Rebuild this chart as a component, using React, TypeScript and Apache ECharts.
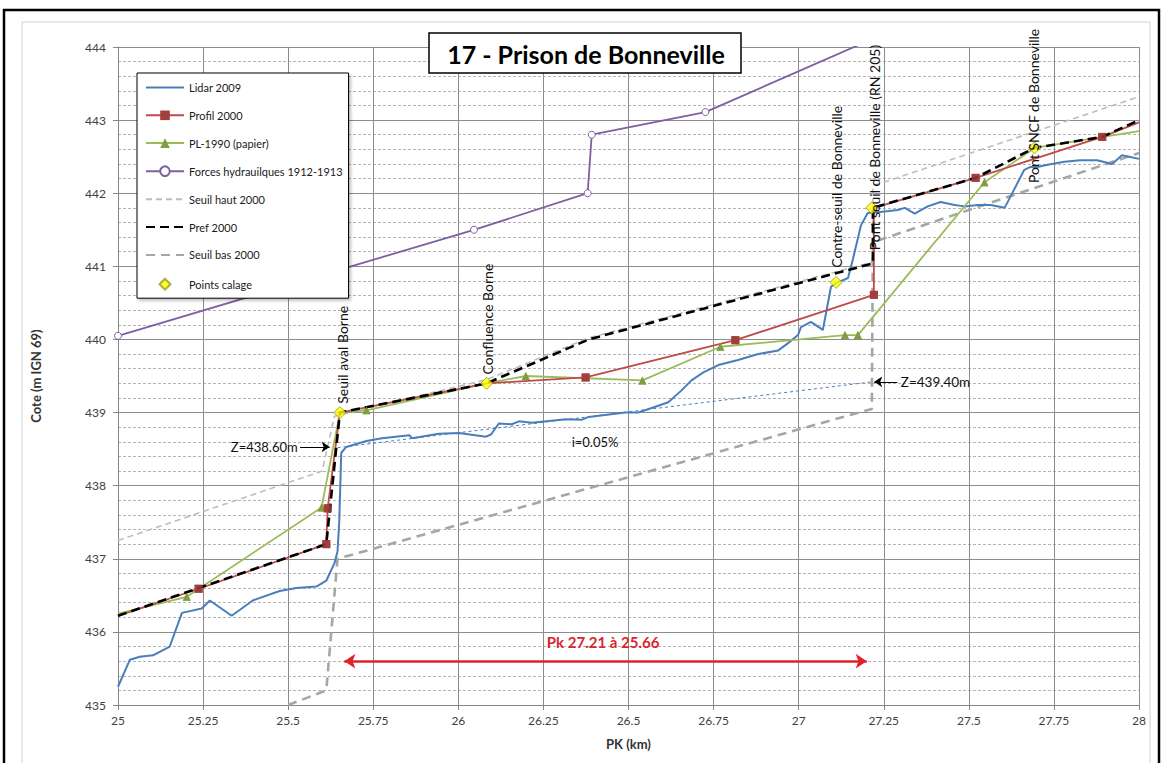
import React, { useEffect, useRef } from "react";
import * as echarts from "echarts";

const FONT = "Lato, 'Liberation Sans', sans-serif";

const legendNames = [
  "Lidar 2009",
  "Profil 2000",
  "PL-1990 (papier)",
  "Forces hydrauilques 1912-1913",
  "Seuil haut 2000",
  "Pref 2000",
  "Seuil bas 2000",
  "Points calage",
];

// PK (km), cote (m)
const lidar2009: [number, number][] = [
  [25.0, 435.25], [25.035, 435.62], [25.064, 435.66], [25.103, 435.68], [25.152, 435.8],
  [25.188, 436.26], [25.246, 436.32], [25.27, 436.43], [25.334, 436.22], [25.396, 436.43],
  [25.475, 436.56], [25.524, 436.6], [25.583, 436.62], [25.612, 436.7], [25.636, 436.94],
  [25.645, 437.1], [25.65, 437.5], [25.656, 438.45], [25.671, 438.53], [25.73, 438.61],
  [25.776, 438.65], [25.856, 438.69], [25.864, 438.65], [25.943, 438.71], [26.002, 438.72],
  [26.081, 438.67], [26.096, 438.7], [26.119, 438.85], [26.157, 438.84], [26.178, 438.88],
  [26.216, 438.86], [26.316, 438.91], [26.362, 438.9], [26.383, 438.94], [26.491, 439.0],
  [26.529, 439.0], [26.579, 439.08], [26.617, 439.14], [26.655, 439.3], [26.685, 439.44],
  [26.72, 439.55], [26.764, 439.65], [26.822, 439.72], [26.881, 439.8], [26.94, 439.85],
  [26.969, 439.95], [26.998, 440.06], [27.007, 440.17], [27.036, 440.24], [27.071, 440.13],
  [27.095, 440.72], [27.11, 440.77], [27.145, 440.84], [27.159, 441.09], [27.183, 441.56],
  [27.203, 441.73], [27.233, 441.74], [27.291, 441.77], [27.312, 441.8], [27.341, 441.72],
  [27.379, 441.82], [27.417, 441.88], [27.458, 441.84], [27.488, 441.82], [27.526, 441.84],
  [27.564, 441.84], [27.605, 441.8], [27.622, 441.95], [27.663, 442.32], [27.681, 442.36],
  [27.701, 442.36], [27.731, 442.39], [27.781, 442.43], [27.827, 442.45], [27.877, 442.45],
  [27.921, 442.4], [27.95, 442.52], [27.971, 442.5], [28.0, 442.47],
];

// [PK, cote, marker shown (1) or not (0)]
const profil2000: [number, number, number][] = [
  [25.0, 436.22, 0], [25.237, 436.59, 1], [25.612, 437.2, 1], [25.616, 437.69, 1],
  [25.652, 439.0, 0], [26.083, 439.4, 0], [26.374, 439.48, 1], [26.814, 439.99, 1],
  [27.221, 440.61, 1], [27.221, 441.8, 0], [27.52, 442.21, 1], [27.892, 442.77, 1],
  [28.0, 442.97, 0],
];

const pl1990: [number, number, number][] = [
  [25.0, 436.25, 0], [25.202, 436.48, 1], [25.598, 437.7, 1], [25.652, 439.0, 0],
  [25.73, 439.03, 1], [26.083, 439.4, 0], [26.198, 439.5, 1], [26.541, 439.44, 1],
  [26.77, 439.9, 1], [27.136, 440.06, 1], [27.174, 440.06, 1], [27.546, 442.15, 1],
  [27.693, 442.62, 0], [28.0, 442.85, 0],
];

const forces1912: [number, number, number][] = [
  [25.0, 440.05, 1], [26.046, 441.5, 1], [26.38, 442.0, 1], [26.392, 442.8, 1],
  [26.726, 443.11, 1], [27.3, 444.28, 0],
];

const seuilHaut2000: [number, number][] = [
  [25.0, 437.25], [25.6, 438.2], [25.636, 438.95], [26.083, 439.45], [26.383, 440.02],
  [27.0, 440.79], [27.218, 441.06], [27.218, 442.1], [28.0, 443.32],
];

const pref2000: [number, number][] = [
  [25.0, 436.22], [25.612, 437.2], [25.652, 439.0], [26.083, 439.4], [26.383, 440.0],
  [27.0, 440.77], [27.218, 441.04], [27.218, 441.8], [27.52, 442.21], [27.693, 442.62],
  [27.892, 442.77], [28.0, 443.0],
];

const seuilBas2000: [number, number][] = [
  [25.5, 435.0], [25.612, 435.2], [25.645, 437.0], [27.215, 439.05], [27.218, 441.33],
  [28.0, 442.55],
];

const pente005: [number, number][] = [
  [25.645, 438.52], [27.215, 439.42],
];

const pointsCalage: [number, number][] = [
  [25.652, 439.0], [26.083, 439.4], [27.11, 440.78], [27.215, 441.8], [27.693, 442.62],
];

// vertical site labels: [text, PK, cote at the foot of the label]
const siteLabels: [string, number, number][] = [
  ["Seuil aval Borne", 25.66, 439.12],
  ["Confluence Borne", 26.085, 439.52],
  ["Contre-seuil de Bonneville", 27.11, 440.98],
  ["Pont seuil de Bonneville (RN 205)", 27.222, 441.22],
  ["Pont SNCF de Bonneville", 27.69, 442.14],
];

const title = "17 - Prison de Bonneville";

const withMarkers = (arr: [number, number, number][]) =>
  arr.map((p) => (p[2] ? [p[0], p[1]] : { value: [p[0], p[1]], symbol: "none" }));
const onlyMarkers = (arr: [number, number, number][]) =>
  arr.filter((p) => p[2]).map((p) => [p[0], p[1]]);

const noSymbol = { itemStyle: { opacity: 0 } };
const diamondIcon = "path://M0,0 M38,12 M19,0.5 L24.5,6 L19,11.5 L13.5,6 Z";

export default function App() {
  const ref = useRef<HTMLDivElement>(null);
  useEffect(() => {
    const chart = echarts.init(ref.current!, null, { renderer: "svg" });
    const redLine = "#BE4B48";
    const redMark = "#A23F3C";
    const green = "#9BBB59";
    const greenMark = "#7F9F3F";
    const purple = "#7D60A0";
    const blue = "#4A7EBB";

    const option: any = {
      animation: false,
      backgroundColor: "#fff",
      textStyle: { fontFamily: FONT },
      grid: { left: 118, right: 26, top: 47, bottom: 58, containLabel: false },
      legend: {
        orient: "vertical",
        left: 137,
        top: 73,
        itemWidth: 38,
        itemHeight: 12,
        itemGap: 16.8,
        padding: [9, 6, 7, 8],
        backgroundColor: "#fff",
        borderColor: "#000",
        borderWidth: 1,
        shadowColor: "rgba(0,0,0,0.25)",
        shadowBlur: 3,
        shadowOffsetX: 2,
        shadowOffsetY: 2,
        textStyle: { fontFamily: FONT, fontSize: 11, color: "#1a1a1a" },
        data: [
          { name: legendNames[0], ...noSymbol },
          { name: legendNames[1] },
          { name: legendNames[2] },
          { name: legendNames[3] },
          { name: legendNames[4], ...noSymbol },
          { name: legendNames[5], ...noSymbol },
          { name: legendNames[6], ...noSymbol },
          { name: legendNames[7], icon: diamondIcon },
        ],
        selectedMode: false,
      },
      xAxis: {
        type: "value",
        min: 25,
        max: 28,
        interval: 0.25,
        name: "PK (km)",
        nameLocation: "middle",
        nameGap: 32,
        nameTextStyle: { fontFamily: FONT, fontSize: 13, fontWeight: "bold", color: "#333" },
        axisLine: { show: true, onZero: false, lineStyle: { color: "#868686", width: 1 } },
        axisTick: { show: true, length: 5, lineStyle: { color: "#868686" } },
        axisLabel: { fontFamily: FONT, fontSize: 12, color: "#404040", margin: 9 },
        splitLine: { show: true, lineStyle: { color: "#8c8c8c", width: 1 } },
      },
      yAxis: {
        type: "value",
        min: 435,
        max: 444,
        interval: 1,
        name: "Cote (m IGN 69)",
        nameLocation: "middle",
        nameGap: 76,
        nameTextStyle: { fontFamily: FONT, fontSize: 13, fontWeight: "bold", color: "#333" },
        axisLine: { show: true, lineStyle: { color: "#868686", width: 1 } },
        axisTick: { show: true, length: 5, lineStyle: { color: "#868686" } },
        axisLabel: { fontFamily: FONT, fontSize: 12, color: "#404040", margin: 12 },
        splitLine: { show: true, lineStyle: { color: "#8c8c8c", width: 1 } },
        minorTick: { show: false, splitNumber: 5 },
        minorSplitLine: { show: true, lineStyle: { color: "#b4b4b4", width: 1, type: [3, 2] } },
      },
      series: [
        {
          name: "Seuil haut 2000",
          type: "line",
          data: seuilHaut2000,
          symbol: "none",
          lineStyle: { color: "#bdbdbd", width: 1.6, type: [6, 4] },
          itemStyle: { color: "#bdbdbd" },
          z: 2,
        },
        {
          name: "Seuil bas 2000",
          type: "line",
          data: seuilBas2000,
          symbol: "none",
          lineStyle: { color: "#a6a6a6", width: 2.6, type: [9, 6] },
          itemStyle: { color: "#a6a6a6" },
          z: 2,
        },
        {
          name: "pente",
          type: "line",
          data: pente005,
          symbol: "none",
          lineStyle: { color: blue, width: 1, type: [3, 3] },
          silent: true,
          z: 2,
          markLine: {
            silent: true,
            animation: false,
            label: { show: false },
            emphasis: { disabled: true },
            data: [
              [
                { coord: [25.535, 438.53], symbol: "none", lineStyle: { color: "#000", width: 1, type: "solid" } },
                { coord: [25.622, 438.53], symbol: "arrow", symbolSize: 8 },
              ],
              [
                { coord: [27.29, 439.42], symbol: "none", lineStyle: { color: "#000", width: 1, type: "solid" } },
                { coord: [27.222, 439.42], symbol: "arrow", symbolSize: 8 },
              ],
              [
                { coord: [25.665, 435.6], symbol: "arrow", symbolSize: 11, lineStyle: { color: "#E0202A", width: 2.5, type: "solid" } },
                { coord: [27.2, 435.6], symbol: "arrow", symbolSize: 11 },
              ],
            ],
          },
        },
        {
          name: "Lidar 2009",
          type: "line",
          data: lidar2009,
          symbol: "none",
          lineStyle: { color: blue, width: 2 },
          itemStyle: { color: blue },
          z: 3,
        },
        {
          name: "Forces hydrauilques 1912-1913",
          type: "line",
          data: withMarkers(forces1912),
          symbol: "circle",
          symbolSize: 7,
          lineStyle: { color: purple, width: 1.8 },
          itemStyle: { color: "#fff", borderColor: purple, borderWidth: 1 },
          z: 3,
        },
        {
          name: "PL-1990 (papier)",
          type: "line",
          data: withMarkers(pl1990),
          symbol: "triangle",
          symbolSize: 8,
          lineStyle: { color: green, width: 1.8 },
          itemStyle: { color: greenMark },
          z: 3,
        },
        {
          name: "Profil 2000",
          type: "line",
          data: withMarkers(profil2000),
          symbol: "rect",
          symbolSize: 8,
          lineStyle: { color: redLine, width: 1.8 },
          itemStyle: { color: redMark },
          z: 3,
        },
        {
          name: "Pref 2000",
          type: "line",
          data: pref2000,
          symbol: "none",
          lineStyle: { color: "#000", width: 2.6, type: [9, 5] },
          itemStyle: { color: "#000" },
          z: 4,
        },
        {
          name: "markersPL",
          type: "scatter",
          data: onlyMarkers(pl1990),
          symbol: "triangle",
          symbolSize: 8,
          itemStyle: { color: greenMark },
          silent: true,
          z: 5,
        },
        {
          name: "markersProfil",
          type: "scatter",
          data: onlyMarkers(profil2000),
          symbol: "rect",
          symbolSize: 8,
          itemStyle: { color: redMark },
          silent: true,
          z: 5,
        },
        {
          name: "Points calage",
          type: "scatter",
          data: pointsCalage,
          symbol: "diamond",
          symbolSize: 12,
          itemStyle: { color: "#FFFF00", borderColor: "#9a9a1a", borderWidth: 1 },
          z: 6,
        },
      ],
    };
    chart.setOption(option);

    const px = (p: [number, number]) =>
      chart.convertToPixel({ xAxisIndex: 0, yAxisIndex: 0 }, p) as number[];

    const graphics: any[] = [
      {
        type: "rect",
        z: 0,
        silent: true,
        shape: { x: 22, y: 22, width: 1128, height: 760 },
        style: { fill: "none", stroke: "#d0d0d0", lineWidth: 1 },
      },
      {
        type: "rect",
        z: 0,
        silent: true,
        shape: { x: 4, y: 10, width: 1155, height: 770 },
        style: { fill: "none", stroke: "#000", lineWidth: 2.5 },
      },
      {
        type: "rect",
        z: 20,
        silent: true,
        shape: { x: 429, y: 33, width: 312, height: 40 },
        style: { fill: "#fff", stroke: "#000", lineWidth: 1.5 },
      },
      {
        type: "text",
        z: 21,
        silent: true,
        x: 586,
        y: 54,
        style: {
          text: title,
          fill: "#000",
          font: `bold 25px ${FONT}`,
          align: "center",
          verticalAlign: "middle",
        },
      },
    ];

    siteLabels.forEach(([t, x, y]) => {
      const [gx, gy] = px([x, y]);
      graphics.push({
        type: "text",
        z: 15,
        silent: true,
        x: gx,
        y: gy,
        rotation: Math.PI / 2,
        style: {
          text: t,
          fill: "#111",
          font: `14px ${FONT}`,
          align: "left",
          verticalAlign: "middle",
        },
      });
    });

    const addText = (t: string, p: [number, number], align: string, font: string, fill: string) => {
      const [gx, gy] = px(p);
      graphics.push({
        type: "text",
        z: 15,
        silent: true,
        x: gx,
        y: gy,
        style: { text: t, fill, font, align, verticalAlign: "middle" },
      });
    };
    addText("Z=438.60m", [25.528, 438.53], "right", `13px ${FONT}`, "#111");
    addText("Z=439.40m", [27.3, 439.42], "left", `13.5px ${FONT}`, "#111");
    addText("i=0.05%", [26.333, 438.6], "left", `13px ${FONT}`, "#111");
    addText("Pk 27.21 à 25.66", [26.26, 435.86], "left", `bold 15px ${FONT}`, "#D9262E");

    chart.setOption({ graphic: graphics });

    return () => chart.dispose();
  }, []);
  return (
    <div
      ref={ref}
      style={{ position: "absolute", left: 0, top: 0, width: 1165, height: 763 }}
    />
  );
}
